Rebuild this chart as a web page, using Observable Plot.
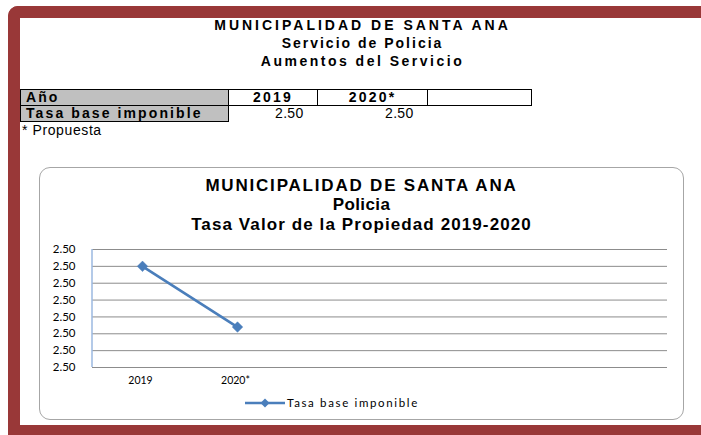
<!DOCTYPE html>
<html><head><meta charset="utf-8">
<script src="https://cdn.jsdelivr.net/npm/d3@7"></script>
<script src="https://cdn.jsdelivr.net/npm/@observablehq/plot@0.6"></script>
<style>
html,body{margin:0;padding:0;background:#fff;overflow:hidden;}
body{width:701px;height:435px;position:relative;font-family:"Liberation Sans",Arial,sans-serif;}
#page{position:absolute;left:0;top:0;width:701px;height:435px;overflow:hidden;background:#fff;}
.frame{position:absolute;left:8px;top:6px;width:693px;height:429px;box-sizing:border-box;background:#fff;
  border-top:12px solid #993838;border-left:12px solid #993838;border-bottom:10px solid #993838;border-top-left-radius:10px;}
.t{position:absolute;left:20px;width:685px;text-align:center;font-weight:bold;font-size:14px;letter-spacing:2.2px;color:#000;white-space:nowrap;line-height:18px;}
table{position:absolute;left:20px;top:89px;border-collapse:collapse;font-size:14px;}
td{padding:0 3px;height:15px;line-height:15px;white-space:nowrap;}
.lab{background:#c0c0c0;font-weight:bold;letter-spacing:2.1px;border:1.5px solid #000;width:199px;padding-left:5px;}
.hd{font-weight:bold;text-align:center;letter-spacing:2.2px;border-top:1.5px solid #000;border-bottom:1.5px solid #000;border-right:1.5px solid #000;}
.val{text-align:right;padding-right:14px;letter-spacing:0.3px;}
.note{position:absolute;left:22px;top:122px;font-size:14px;letter-spacing:0.6px;}
.box{position:absolute;left:39px;top:167px;width:643px;height:251px;border:1px solid #a6a6a6;border-radius:11px;background:#fff;}
.ct{position:absolute;left:39px;width:645px;text-align:center;font-family:"Liberation Sans",Arial,sans-serif;font-weight:bold;font-size:17px;line-height:19px;color:#000;white-space:nowrap;}
#plot{position:absolute;left:39px;top:235px;}
.legend{position:absolute;left:245px;top:396px;font-family:Lato,sans-serif;font-size:11.5px;letter-spacing:1.65px;display:flex;align-items:center;white-space:nowrap;}
</style></head>
<body>
<div id="page">
<div class="frame"></div>
<div class="t" style="top:16px;letter-spacing:3px">MUNICIPALIDAD DE SANTA ANA</div>
<div class="t" style="top:34px;letter-spacing:2px">Servicio de Policia</div>
<div class="t" style="top:52px;letter-spacing:2.5px">Aumentos del Servicio</div>
<table id="tbl"></table>
<div class="note">* Propuesta</div>
<div class="box"></div>
<div class="ct" style="top:175.5px;letter-spacing:1.8px">MUNICIPALIDAD DE SANTA ANA</div>
<div class="ct" style="top:195.3px;letter-spacing:0.4px">Policia</div>
<div class="ct" style="top:215px;letter-spacing:1.1px">Tasa Valor de la Propiedad 2019-2020</div>
<div id="plot"></div>
<div class="legend" id="legend"></div>
</div>
<script>
const years = ["2019", "2020*"];
const tasa = [2.5030, 2.5012];
const tableValues = [2.50, 2.50];
const rowLabels = ["Año", "Tasa base imponible"];
const seriesName = "Tasa base imponible";
const xDomain = ["2019", "2020*", "c3", "c4", "c5", "c6"];
const yTicks = [2.5000, 2.5005, 2.5010, 2.5015, 2.5020, 2.5025, 2.5030, 2.5035];

const blue = "#4a7ebb";
const fmt = d3.format(".2f");

// table
const tbl = document.getElementById("tbl");
tbl.innerHTML =
  `<tr><td class="lab">${rowLabels[0]}</td>` +
  years.map(y => `<td class="hd" style="width:${y === years[0] ? 82 : 103}px">${y}</td>`).join("") +
  `<td class="hd" style="width:97px"></td></tr>` +
  `<tr><td class="lab">${rowLabels[1]}</td>` +
  tableValues.map(v => `<td class="val">${fmt(v)}</td>`).join("") + `<td></td></tr>`;

const data = years.map((y, i) => ({year: y, value: tasa[i]}));

const chart = Plot.plot({
  width: 643,
  height: 160,
  marginLeft: 53,
  marginRight: 15,
  marginTop: 14,
  marginBottom: 28,
  style: {fontFamily: "Lato, sans-serif", fontSize: "11px", color: "#000", background: "transparent"},
  x: {type: "point", domain: xDomain, padding: 0.5, label: null},
  y: {domain: [yTicks[0], yTicks[yTicks.length - 1]], label: null},
  marks: [
    Plot.ruleY(yTicks, {stroke: "#8c8c8c", strokeWidth: 1}),
    Plot.axisY({ticks: yTicks, tickFormat: fmt, tickSize: 0, tickPadding: 17, fontSize: 11.5}),
    Plot.axisX({ticks: years, tickSize: 0, tickPadding: 9, fontSize: 10.5, tickFormat: d => d, dx: -2}),
    Plot.line(data, {x: "year", y: "value", stroke: blue, strokeWidth: 2.6}),
    Plot.dot(data, {x: "year", y: "value", symbol: "square", rotate: 45, r: 4.2, fill: blue, stroke: blue, strokeWidth: 0.5})
  ]
});
document.getElementById("plot").appendChild(chart);

// left axis line (light blue)
const svg = d3.select(chart);
svg.append("line").attr("x1", 53).attr("x2", 53).attr("y1", 14).attr("y2", 132)
  .attr("stroke", "#9bb9e0").attr("stroke-width", 1.5);

// legend
const lg = document.getElementById("legend");
lg.innerHTML = `<svg width="41" height="12"><line x1="0" x2="40" y1="6" y2="6" stroke="${blue}" stroke-width="2.6"/><path d="M20 1.5 L24.5 6 L20 10.5 L15.5 6 Z" fill="${blue}"/></svg><span style="margin-left:1px">${seriesName}</span>`;
</script>
</body></html>
